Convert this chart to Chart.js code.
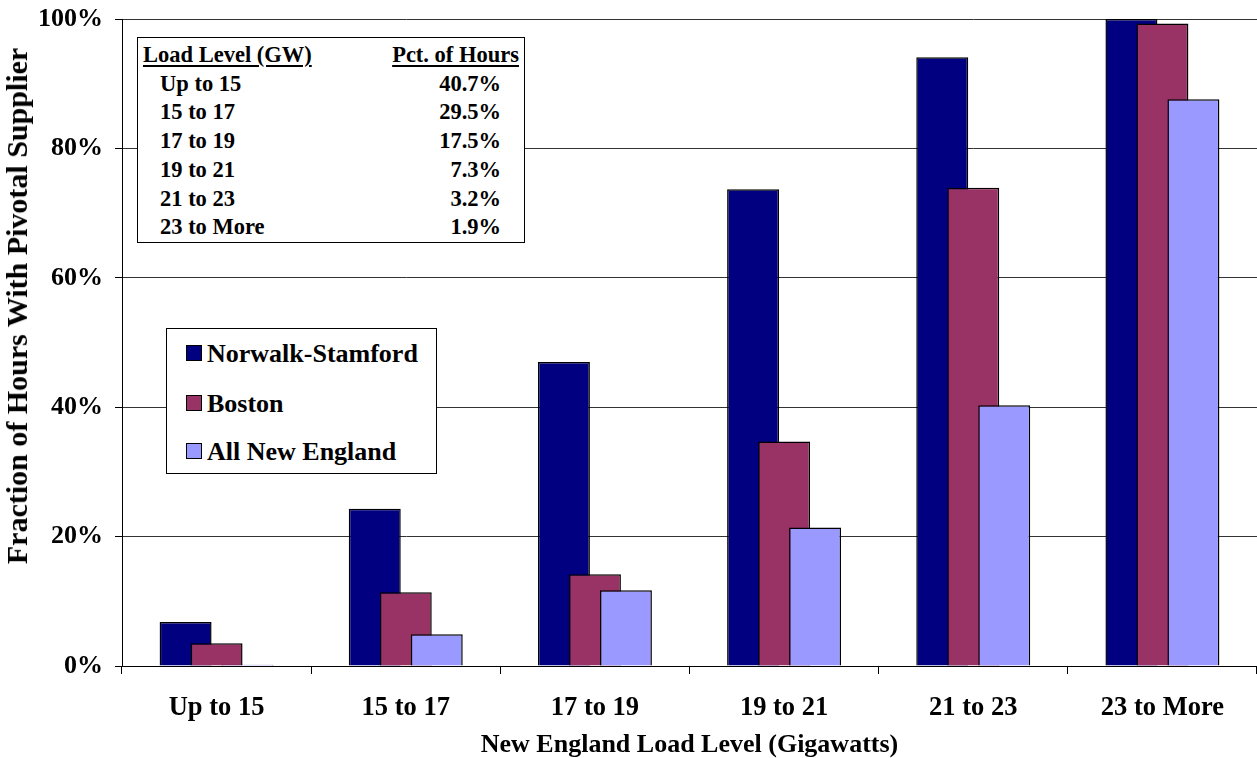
<!DOCTYPE html>
<html>
<head>
<meta charset="utf-8">
<script src="https://cdn.jsdelivr.net/npm/chart.js@4.4.0/dist/chart.umd.min.js"></script>
<style>
  html, body { margin: 0; padding: 0; background: #fff; }
  #wrap {
    position: relative; width: 1257px; height: 758px;
    font-family: "Liberation Serif", "Times New Roman", serif;
    font-weight: bold; color: #000;
  }
  #chart { position: absolute; left: 0; top: 0; }
  .box { position: absolute; background: #fff; border: 1px solid #000; box-sizing: border-box; }
  #hours { left: 137px; top: 37px; width: 388px; height: 206px; font-size: 22.5px; padding-top: 3px; }
  #hours .row { display: flex; justify-content: space-between; line-height: 28.7px; white-space: nowrap; }
  #hours .head { padding: 0 5px 0 5px; }
  #hours .head span { text-decoration: underline; text-decoration-thickness: 2px; text-underline-offset: 3px; }
  #hours .body { padding: 0 23px 0 22px; }
  #legend { left: 166px; top: 328px; width: 271px; height: 146px; font-size: 26px; }
  #legend .item { position: absolute; left: 19px; white-space: nowrap; line-height: 30px; }
  #legend .swatch { display: inline-block; width: 16px; height: 16px; border: 1px solid #000; box-sizing: border-box; margin-right: 5px; vertical-align: 1px; }
  #ytitle {
    position: absolute; left: 17px; top: 306px; font-size: 30px; white-space: nowrap;
    transform: translate(-50%, -50%) rotate(-90deg); line-height: 1;
  }
</style>
</head>
<body>
<div id="wrap">
  <canvas id="chart" width="1257" height="758"></canvas>
  <div id="ytitle">Fraction of Hours With Pivotal Supplier</div>
  <div id="hours" class="box"></div>
  <div id="legend" class="box"></div>
</div>
<script>
// Load bands on the horizontal axis (GW)
const categories = ['Up to 15', '15 to 17', '17 to 19', '19 to 21', '21 to 23', '23 to More'];

// Share of hours (%) in which a pivotal supplier is present, per area
const norwalkStamford = [6.8, 24.3, 47.0, 73.7, 94.1, 100.0];
const boston          = [3.5, 11.4, 14.2, 34.7, 73.9, 99.3];
const allNewEngland   = [0.2, 4.9, 11.7, 21.4, 40.3, 87.6];

// Share of all hours falling in each load band (%)
const pctOfHours = [40.7, 29.5, 17.5, 7.3, 3.2, 1.9];

// Vertical axis ticks (%)
const yTicks = [0, 20, 40, 60, 80, 100];

const seriesNames  = ['Norwalk-Stamford', 'Boston', 'All New England'];
const seriesColors = ['#000080', '#993366', '#9999FF'];
const seriesData   = [norwalkStamford, boston, allNewEngland];

const FONT = '"Liberation Serif", "Times New Roman", serif';

// Inset table: load band vs. share of hours
(function buildHoursTable() {
  const el = document.getElementById('hours');
  let html = '<div class="row head"><span>Load Level (GW)</span><span>Pct. of Hours</span></div>';
  categories.forEach((c, i) => {
    html += '<div class="row body"><span>' + c + '</span><span>' + pctOfHours[i].toFixed(1) + '%</span></div>';
  });
  el.innerHTML = html;
})();

// Legend box
(function buildLegend() {
  const el = document.getElementById('legend');
  const rowTops = [10, 60, 108];
  el.innerHTML = seriesNames.map((n, i) =>
    '<div class="item" style="top:' + rowTops[i] + 'px"><span class="swatch" style="background:' +
    seriesColors[i] + '"></span>' + n + '</div>').join('');
})();

// Later series overlap earlier ones: paint datasets first-to-last
const paintInSeriesOrder = {
  id: 'paintInSeriesOrder',
  beforeDatasetsDraw(chart) {
    const metas = chart.getSortedVisibleDatasetMetas();
    metas.forEach(meta => meta.controller.draw());
    return false;
  }
};

new Chart(document.getElementById('chart'), {
  type: 'bar',
  data: {
    labels: categories,
    datasets: seriesData.map((d, i) => ({
      label: seriesNames[i],
      data: d,
      backgroundColor: seriesColors[i],
      borderColor: '#000',
      borderWidth: 1.5,
      borderSkipped: 'bottom',
      categoryPercentage: 0.4915,
      barPercentage: 1.677
    }))
  },
  options: {
    responsive: false,
    animation: false,
    devicePixelRatio: 1,
    layout: { padding: { top: 19, right: 0, left: 0, bottom: 0 } },
    plugins: { legend: { display: false }, tooltip: { enabled: false } },
    scales: {
      x: {
        type: 'category',
        offset: true,
        grid: { offset: true, drawOnChartArea: false, drawTicks: true, tickLength: 8, color: '#000', lineWidth: 1 },
        border: { display: true, color: '#000', width: 1 },
        ticks: { color: '#000', padding: 18, font: { family: FONT, size: 26.5, weight: 'bold' }, maxRotation: 0, autoSkip: false },
        title: { display: true, text: 'New England Load Level (Gigawatts)', color: '#000',
                 font: { family: FONT, size: 26, weight: 'bold', lineHeight: 1 }, padding: { top: 0, bottom: 0 } },
        afterFit(scale) { scale.height = 92; scale.paddingLeft = 0; scale.paddingRight = 0; }
      },
      y: {
        min: 0, max: 100,
        afterBuildTicks(scale) { scale.ticks = yTicks.map(v => ({ value: v })); },
        grid: { color: '#333', lineWidth: 1, drawTicks: true, tickLength: 7, tickColor: '#000' },
        border: { display: true, color: '#000', width: 1 },
        ticks: { color: '#000', padding: 12, font: { family: FONT, size: 26, weight: 'bold' },
                 callback: v => v + '%' },
        afterFit(scale) { scale.width = 122; scale.paddingTop = 0; scale.paddingBottom = 0; }
      }
    }
  },
  plugins: [paintInSeriesOrder]
});
</script>
</body>
</html>
